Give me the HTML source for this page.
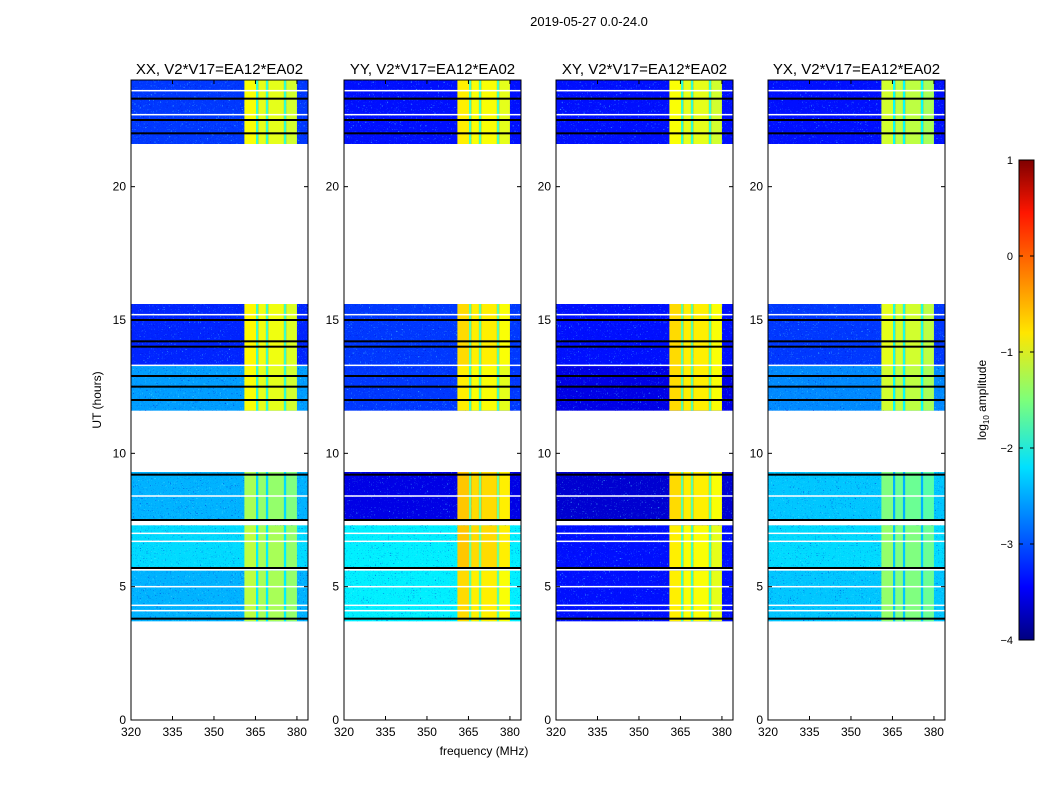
<!DOCTYPE html>
<html><head><meta charset="utf-8"><style>
body{margin:0;background:#fff;}
svg text{font-family:"Liberation Sans",sans-serif;}
</style></head><body>
<svg id="fig" width="1050" height="800" viewBox="0 0 1050 800" xmlns="http://www.w3.org/2000/svg">
<defs>
<filter id="noiseLight" x="0" y="0" width="100%" height="100%">
<feTurbulence type="turbulence" baseFrequency="0.55" numOctaves="1" seed="3"/>
<feColorMatrix type="matrix" values="0 0 0 0 0.1  0 0 0 0 0.85  0 0 0 0 1  4 0 0 0 -1.4"/>
</filter>
<filter id="noiseDark" x="0" y="0" width="100%" height="100%">
<feTurbulence type="turbulence" baseFrequency="0.6" numOctaves="1" seed="11"/>
<feColorMatrix type="matrix" values="0 0 0 0 0  0 0 0 0 0  0 0 0 0 0.6  4 0 0 0 -1.4"/>
</filter>
<linearGradient id="jet" x1="0" y1="1" x2="0" y2="0">
<stop offset="0" stop-color="#00007f"/><stop offset="0.11" stop-color="#0000ff"/>
<stop offset="0.36" stop-color="#00e0ff"/><stop offset="0.5" stop-color="#7dff7a"/>
<stop offset="0.64" stop-color="#ffe600"/><stop offset="0.89" stop-color="#ff1600"/>
<stop offset="1" stop-color="#7f0000"/>
</linearGradient>
</defs>
<text x="589" y="26" font-size="13" text-anchor="middle">2019-05-27 0.0-24.0</text>
<g id="panels"></g>
<text x="484" y="755" font-size="12" text-anchor="middle">frequency (MHz)</text>
<text transform="translate(101,400) rotate(-90)" font-size="12" text-anchor="middle">UT (hours)</text>
<g id="cbar"></g>
</svg>
<script>
const panelTitles = ["XX, V2*V17=EA12*EA02","YY, V2*V17=EA12*EA02","XY, V2*V17=EA12*EA02","YX, V2*V17=EA12*EA02"];
const panelLefts = [131,344,556,768];
const blockStart = [21.6,13.3,11.6,7.5,5.7,3.7];
const blockEnd   = [24.0,15.6,13.3,9.3,7.3,5.6];
const lowLevels = [
 [-3.1,-3.2,-2.6,-2.5,-2.3,-2.5],
 [-3.3,-3.1,-3.1,-3.5,-2.2,-2.2],
 [-3.3,-3.3,-3.5,-3.6,-3.3,-3.3],
 [-3.3,-3.1,-2.7,-2.4,-2.3,-2.4]];
const highLevels = [
 [-1.0,-0.95,-1.0,-1.4,-1.3,-1.3],
 [-0.9,-0.8,-0.9,-0.7,-0.7,-0.8],
 [-1.0,-0.8,-0.8,-0.8,-0.9,-0.9],
 [-1.2,-1.1,-1.2,-1.6,-1.5,-1.5]];
const highColStart = [361,365.2,366,368.8,369.6,375.3,376.1];
const highColEnd   = [365.2,366,368.8,369.6,375.3,376.1,380];
const highColOffset= [0.1,-0.9,0.0,-0.9,0.0,-0.9,-0.1];
const blackLines = [23.3,22.5,22.0,15.0,14.2,14.0,12.9,12.5,12.0,9.2,7.5,5.7,3.8];
const whiteLines = [23.6,22.7,15.2,13.3,8.4,7.0,6.7,5.0,4.3,4.1];
const xTicks = [320,335,350,365,380];
const yTicks = [0,5,10,15,20];
const cbTicks = [1,0,-1,-2,-3,-4];

const NS="http://www.w3.org/2000/svg";
const W=177, TOP=80, BOT=720, FMIN=320, FMAX=384, TMAX=24, VMIN=-4, VMAX=1;
function yS(t){return BOT-(t/TMAX)*(BOT-TOP);}
function jet(v){
 let x=(v-VMIN)/(VMAX-VMIN); x=Math.max(0,Math.min(1,x));
 const f=t=>Math.max(0,Math.min(1,1.5-Math.abs(4*x-t)));
 return `rgb(${Math.round(255*f(3))},${Math.round(255*f(2))},${Math.round(255*f(1))})`;
}
function el(tag,attrs,parent){const e=document.createElementNS(NS,tag);for(const k in attrs)e.setAttribute(k,attrs[k]);parent.appendChild(e);return e;}
const root=document.getElementById('panels');
panelLefts.forEach((L,p)=>{
 const xS=f=>L+(f-FMIN)/(FMAX-FMIN)*W;
 const g=el('g',{},root);
 
 
 const hm=el('g',{},g);
 
 
 blockStart.forEach((s,b)=>{
  const y0=yS(blockEnd[b]), y1=yS(s);
  const r=el('rect',{x:L,y:y0,width:W,height:y1-y0,fill:jet(lowLevels[p][b])},hm);
  
  
  const n1=el('rect',{x:L,y:y0,width:W,height:y1-y0,filter:'url(#noiseLight)',opacity:0.55},hm);
  
  
  const n2=el('rect',{x:L,y:y0,width:W,height:y1-y0,filter:'url(#noiseDark)',opacity:0.5},hm);
  
  
  highColStart.forEach((c,i)=>{
   const rr=el('rect',{x:xS(c),y:y0,width:xS(highColEnd[i])-xS(c),height:y1-y0,fill:jet(highLevels[p][b]+highColOffset[i])},hm);
   
   
  });
 });
 blackLines.forEach(t=>{const l=el('rect',{x:L,y:yS(t)-1,width:W,height:2,fill:'#000'},hm);
  
  });
 whiteLines.forEach(t=>{const l=el('rect',{x:L,y:yS(t)-0.75,width:W,height:1.5,fill:'#fff'},hm);
  
  });
 const fr=el('rect',{x:L,y:TOP,width:W,height:BOT-TOP,fill:'none',stroke:'#000','stroke-width':1},g);
 
 
 const tt=el('text',{x:L+W/2,y:TOP-6,'font-size':15,'text-anchor':'middle'},g);
 tt.textContent=panelTitles[p];
 
 
 xTicks.forEach(v=>{const x=xS(v);
  el('line',{x1:x,y1:BOT,x2:x,y2:BOT-4,stroke:'#000'},g);
  el('line',{x1:x,y1:TOP,x2:x,y2:TOP+4,stroke:'#000'},g);
  const t=el('text',{x:x,y:BOT+16,'font-size':12,'text-anchor':'middle'},g);t.textContent=v;
  
  });
 yTicks.forEach(v=>{const y=yS(v);
  el('line',{x1:L,y1:y,x2:L+4,y2:y,stroke:'#000'},g);
  el('line',{x1:L+W,y1:y,x2:L+W-4,y2:y,stroke:'#000'},g);
  const t=el('text',{x:L-5,y:y+4,'font-size':12,'text-anchor':'end'},g);t.textContent=v;
  
  });
});
const cb=document.getElementById('cbar');
const CX=1019,CW=15,CT=160,CB=640;
el('rect',{x:CX,y:CT,width:CW,height:CB-CT,fill:'url(#jet)',stroke:'#000'},cb);
cbTicks.forEach(v=>{const y=CB-(v-VMIN)/(VMAX-VMIN)*(CB-CT);
 el('line',{x1:CX,y1:y,x2:CX+4,y2:y,stroke:'#000'},cb);
 el('line',{x1:CX+CW,y1:y,x2:CX+CW-4,y2:y,stroke:'#000'},cb);
 const t=el('text',{x:1013,y:y+4,'font-size':11,'text-anchor':'end'},cb);t.textContent=(v<0?'\u2212'+(-v):v);
 
 });
const lab=el('text',{transform:'translate(986,400) rotate(-90)','font-size':12,'text-anchor':'middle'},cb);
lab.innerHTML='log<tspan font-size="8" dy="3">10</tspan><tspan dy="-3"> amplitude</tspan>';


</script>
</body></html>
